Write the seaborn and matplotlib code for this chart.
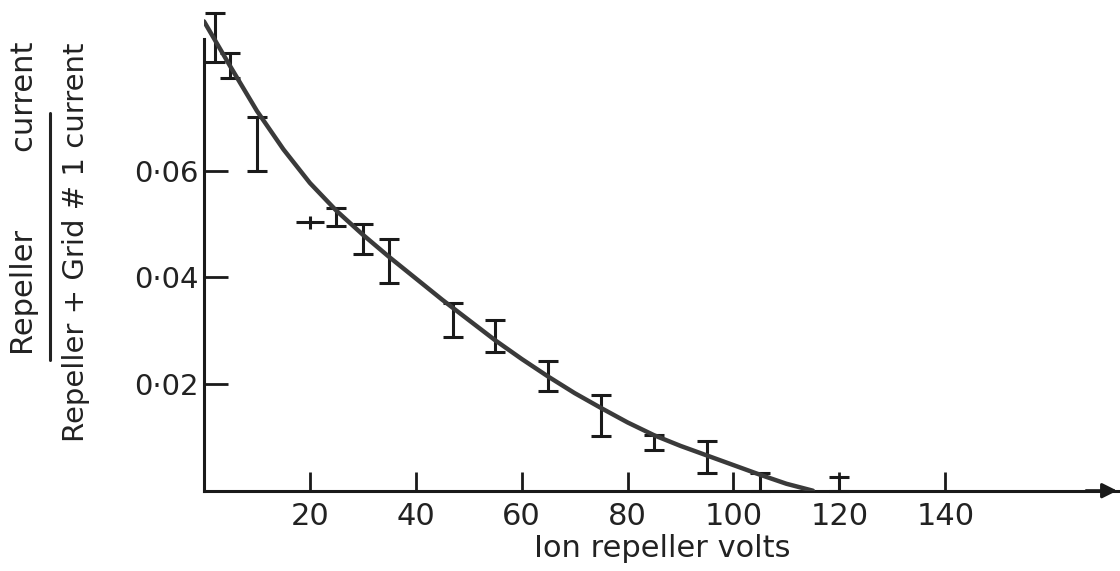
import matplotlib
matplotlib.use("Agg")
import matplotlib.pyplot as plt
import seaborn as sns
import pandas as pd

# measured points (error bars)
volts = [2, 5, 10, 25, 30, 35, 47, 55, 65, 75, 85, 95, 105, 120]
ratio = [0.0850, 0.0797, 0.0650, 0.0513, 0.0472, 0.0430, 0.0320, 0.0290,
         0.0215, 0.0141, 0.0090, 0.0063, 0.00165, 0.0013]
ratio_err = [0.0046, 0.0024, 0.0050, 0.0017, 0.0028, 0.0041, 0.0032, 0.0030,
             0.0028, 0.0038, 0.0014, 0.0030, 0.00165, 0.0013]

# the odd point drawn as a cross
cross_x = [20]
cross_y = [0.0503]

# fitted curve
curve_x = [0, 5, 10, 15, 20, 25, 30, 35, 40, 45, 50, 55, 60, 65, 70, 75,
           80, 85, 90, 95, 100, 105, 110, 115]
curve_y = [0.0880, 0.0795, 0.0712, 0.0640, 0.0577, 0.0525, 0.0480, 0.0438,
           0.0398, 0.0358, 0.0320, 0.0282, 0.0247, 0.0214, 0.0183, 0.0155,
           0.0128, 0.0104, 0.0084, 0.0066, 0.0048, 0.0030, 0.0013, 0.0]

xticks = [20, 40, 60, 80, 100, 120, 140]
xticklabels = ["20", "40", "60", "80", "100", "120", "140"]
yticks = [0.02, 0.04, 0.06]
yticklabels = ["0·02", "0·04", "0·06"]

sns.set_style("white", {"xtick.bottom": True, "ytick.left": True})
plt.rcParams['font.family'] = ['DejaVu Sans']
plt.rcParams['xtick.direction'] = 'in'
plt.rcParams['ytick.direction'] = 'in'

W, H = 1120, 571
fig = plt.figure(figsize=(W / 100, H / 100), dpi=100)
ax = fig.add_axes([204 / W, 80.3 / H, 916 / W, 480 / H])

curve = pd.DataFrame({"volts": curve_x, "ratio": curve_y})
sns.lineplot(data=curve, x="volts", y="ratio", ax=ax, color="#3a3a3a", lw=3.2,
             estimator=None, sort=False, zorder=3)

ax.errorbar(volts, ratio, yerr=ratio_err, fmt="none", ecolor="#1a1a1a",
            elinewidth=2.2, capsize=7, capthick=2.2, clip_on=False, zorder=2)
ax.errorbar(cross_x, cross_y, xerr=2.6, yerr=0.00125, fmt="none",
            ecolor="#1a1a1a", elinewidth=2.2, capsize=0, zorder=2)

ax.set_xlim(0, 173)
ax.set_ylim(0, 0.09)

for s in ["top", "right"]:
    ax.spines[s].set_visible(False)
ax.spines["left"].set_bounds(0, 0.0847)
for s in ["left", "bottom"]:
    ax.spines[s].set_linewidth(2.2)
    ax.spines[s].set_color("#1a1a1a")

ax.annotate("", xy=(1.0, 0), xytext=(0.96, 0), xycoords="axes fraction",
            arrowprops=dict(arrowstyle="-|>", color="#1a1a1a", lw=2.2,
                            mutation_scale=22))

ax.set_xticks(xticks)
ax.set_xticklabels(xticklabels)
ax.set_yticks(yticks)
ax.set_yticklabels(yticklabels)
ax.tick_params(axis="x", bottom=True, direction="in", length=14, width=2,
               color="#1a1a1a", labelsize=22, pad=8, labelcolor="#222222")
ax.tick_params(axis="y", left=True, direction="in", length=17, width=2,
               color="#1a1a1a", labelsize=21, pad=4, labelcolor="#222222")

ax.set_xlabel("Ion repeller volts", fontsize=22, color="#222222", labelpad=2)
ax.set_ylabel("")

# two-line fraction label on the left
fig.text(25 / W, 1 - 198 / H, "Repeller        current", rotation=90,
         fontsize=22, ha="center", va="center", color="#222222")
fig.add_artist(plt.Line2D([50 / W, 50 / W], [1 - 113 / H, 1 - 360 / H],
                          transform=fig.transFigure, color="#222222", lw=2.2))
fig.text(76 / W, 1 - 242 / H, "Repeller + Grid # 1 current", rotation=90,
         fontsize=21, ha="center", va="center", color="#222222")

fig.savefig("out.png", dpi=100, facecolor="white")
